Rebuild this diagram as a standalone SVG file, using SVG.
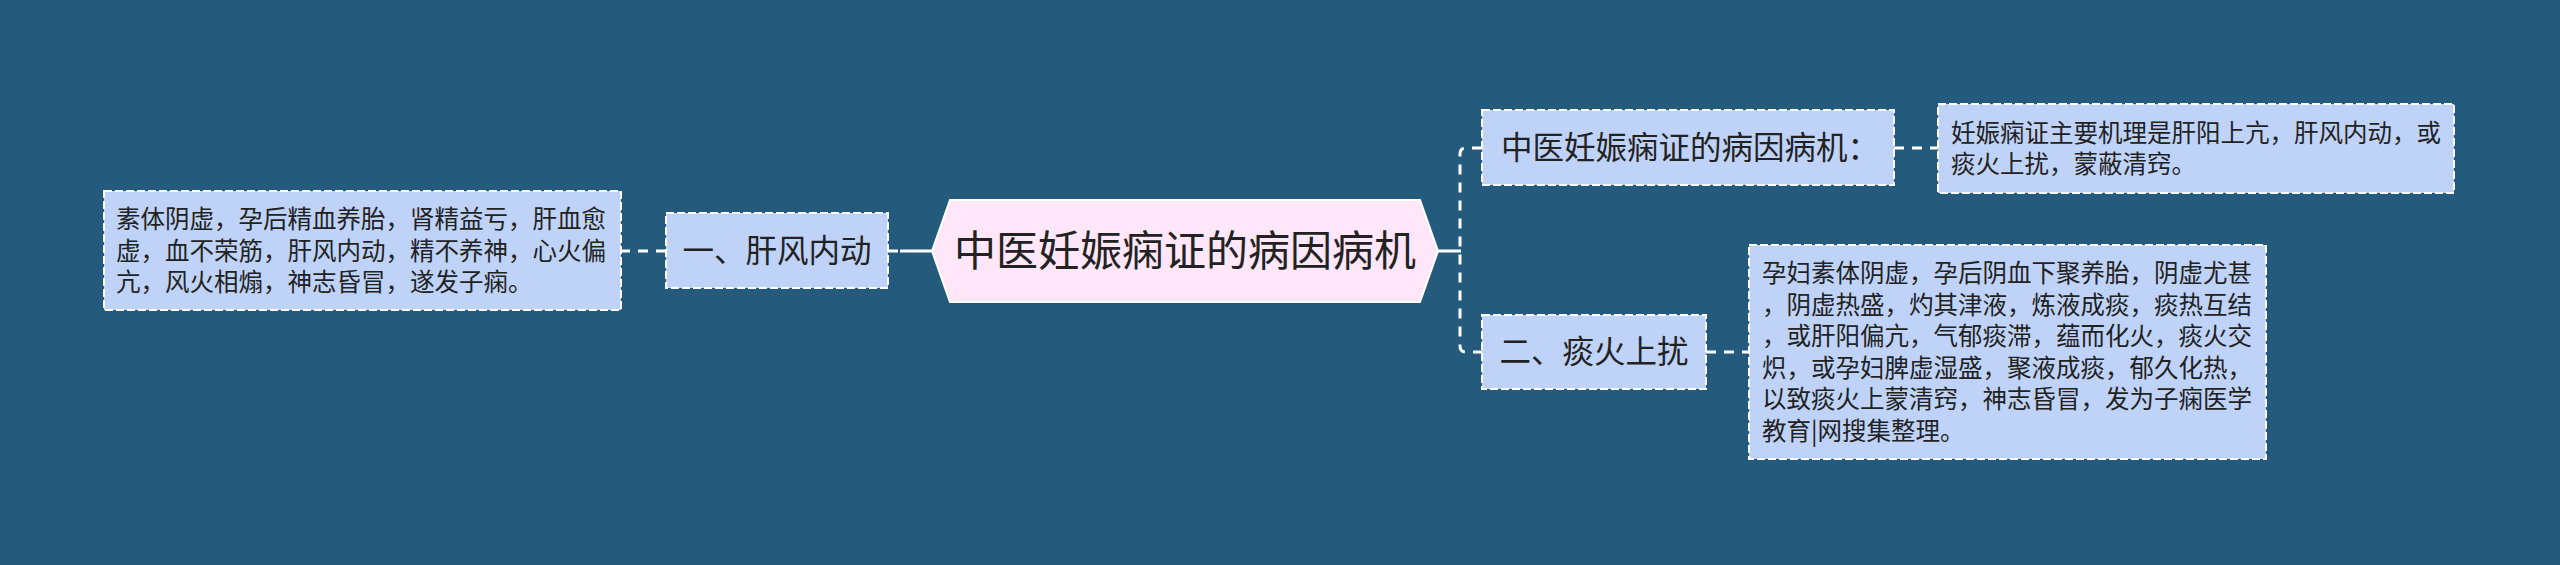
<svg xmlns="http://www.w3.org/2000/svg" width="2560" height="565" viewBox="0 0 2560 565">
<style>
.bg{fill:#245a7b}
.box{fill:#bfd3f8;stroke:#ffffff;stroke-width:2;stroke-dasharray:8 3}
.hex{fill:#ffe6f8;stroke:#ffffff;stroke-width:2}
.t{font-family:"Noto Sans CJK SC","Noto Sans",sans-serif;fill:#222222}
.leaf{font-size:24.5px}
.br{font-size:31.5px}
.ct{font-size:42px}
.c{fill:none;stroke:#ffffff;stroke-width:3}
.d{stroke-dasharray:10 8}
</style>
<rect class="bg" x="0" y="0" width="2560" height="565"/>
<g id="connectors">
<line class="c" x1="932" y1="251" x2="900" y2="251"/>
<line class="c d" x1="888" y1="251" x2="902" y2="251"/>
<line class="c d" x1="666" y1="251" x2="621" y2="251"/>
<line class="c" x1="1438" y1="251" x2="1461" y2="251"/>
<path class="c d" d="M1482,148 H1466 Q1460,148 1460,154 V346 Q1460,352 1466,352 H1482"/>
<line class="c d" x1="1894" y1="148" x2="1938" y2="148"/>
<line class="c d" x1="1706" y1="352" x2="1749" y2="352"/>
</g>
<g id="root">
<polygon class="hex" points="932,251 950,200 1420,200 1438,251 1420,302 950,302"/>
<text class="t ct" x="1185" y="266" text-anchor="middle">中医妊娠痫证的病因病机</text>
</g>
<g id="branch-left">
<rect class="box" x="666" y="213" width="222" height="75"/>
<text class="t br" x="777" y="262" text-anchor="middle">一、肝风内动</text>
</g>
<g id="leaf-left">
<rect class="box" x="104" y="191" width="517" height="119"/>
<text class="t leaf" x="116" y="228">素体阴虚，孕后精血养胎，肾精益亏，肝血愈</text>
<text class="t leaf" x="116" y="259.5">虚，血不荣筋，肝风内动，精不养神，心火偏</text>
<text class="t leaf" x="116" y="291">亢，风火相煽，神志昏冒，遂发子痫。</text>
</g>
<g id="branch-top">
<rect class="box" x="1482" y="110" width="412" height="75"/>
<text class="t br" x="1501" y="159">中医妊娠痫证的病因病机：</text>
</g>
<g id="leaf-top">
<rect class="box" x="1938" y="104" width="516" height="89"/>
<text class="t leaf" x="1951" y="141.5">妊娠痫证主要机理是肝阳上亢，肝风内动，或</text>
<text class="t leaf" x="1951" y="173">痰火上扰，蒙蔽清窍。</text>
</g>
<g id="branch-bottom">
<rect class="box" x="1482" y="315" width="224" height="74"/>
<text class="t br" x="1594" y="363" text-anchor="middle">二、痰火上扰</text>
</g>
<g id="leaf-bottom">
<rect class="box" x="1749" y="245" width="517" height="214"/>
<text class="t leaf" x="1762" y="282">孕妇素体阴虚，孕后阴血下聚养胎，阴虚尤甚</text>
<text class="t leaf" x="1762" y="313.5">，阴虚热盛，灼其津液，炼液成痰，痰热互结</text>
<text class="t leaf" x="1762" y="345">，或肝阳偏亢，气郁痰滞，蕴而化火，痰火交</text>
<text class="t leaf" x="1762" y="376.5">炽，或孕妇脾虚湿盛，聚液成痰，郁久化热，</text>
<text class="t leaf" x="1762" y="408">以致痰火上蒙清窍，神志昏冒，发为子痫医学</text>
<text class="t leaf" x="1762" y="439.5">教育|网搜集整理。</text>
</g>
</svg>
